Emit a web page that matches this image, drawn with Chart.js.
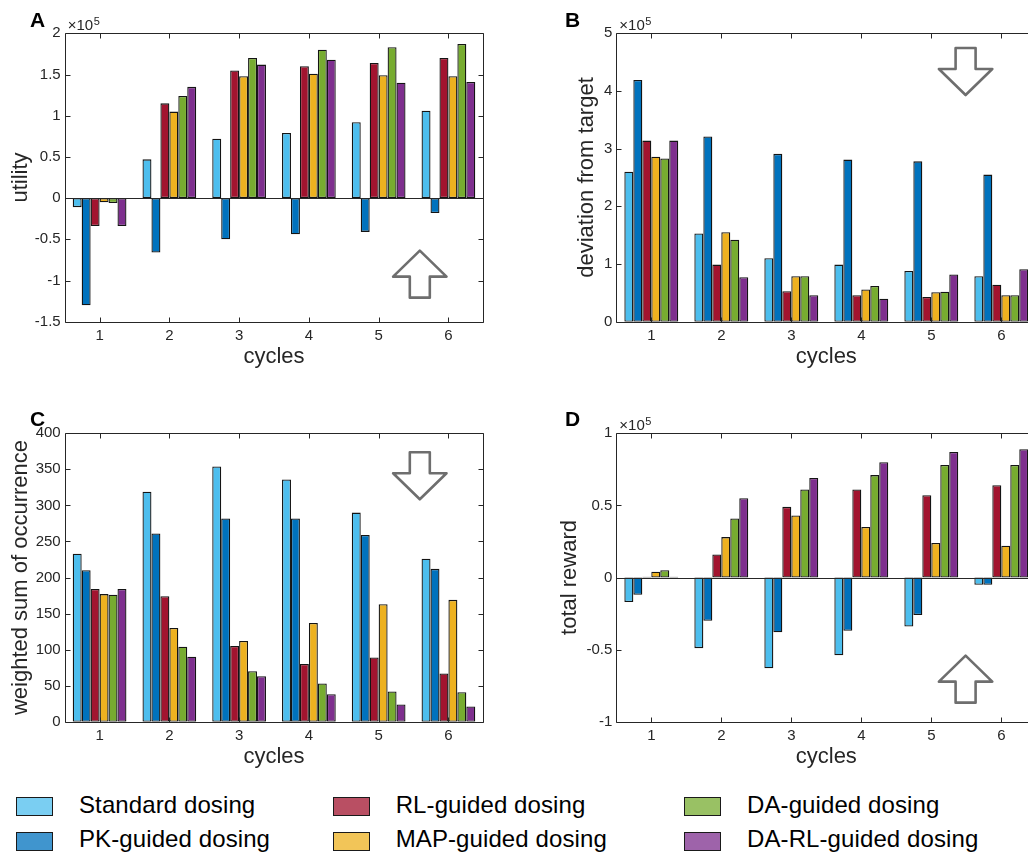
<!DOCTYPE html>
<html>
<head>
<meta charset="utf-8">
<script src="https://cdn.jsdelivr.net/npm/chart.js@4.4.1/dist/chart.umd.min.js"></script>
<style>
  html, body { margin: 0; padding: 0; background: #fff; width: 1028px; height: 855px; overflow: hidden; position: relative; }
  canvas { position: absolute; }
  .swatch { position: absolute; width: 37px; height: 19px; box-sizing: border-box; border: 1.5px solid #1a1a1a; }
  .keytext { position: absolute; font: 24px "Liberation Sans", Arial, sans-serif; letter-spacing: 0.1px; line-height: 24px; color: #000; white-space: nowrap; }
</style>
</head>
<body>
<canvas id="panelA" width="520" height="380" style="left:0px;top:0px"></canvas>
<canvas id="panelB" width="560" height="380" style="left:520px;top:0px"></canvas>
<canvas id="panelC" width="520" height="380" style="left:0px;top:400px"></canvas>
<canvas id="panelD" width="560" height="380" style="left:520px;top:400px"></canvas>
<div id="legend"></div>
<script>
const cycles = ['1', '2', '3', '4', '5', '6'];
const methods = ['Standard dosing', 'PK-guided dosing', 'RL-guided dosing',
                 'MAP-guided dosing', 'DA-guided dosing', 'DA-RL-guided dosing'];

// rows follow the order of `methods`
// utility, x10^5
const utility = [
  [-0.11, 0.47, 0.72, 0.79, 0.92, 1.06],
  [-1.30, -0.66, -0.50, -0.44, -0.41, -0.18],
  [-0.34, 1.15, 1.55, 1.60, 1.64, 1.70],
  [-0.05, 1.05, 1.48, 1.51, 1.49, 1.48],
  [-0.06, 1.24, 1.70, 1.80, 1.83, 1.87],
  [-0.34, 1.35, 1.62, 1.68, 1.40, 1.41]
];
// deviation from target, x10^5
const deviation = [
  [2.60, 1.53, 1.10, 0.99, 0.88, 0.79],
  [4.19, 3.21, 2.91, 2.81, 2.78, 2.55],
  [3.14, 0.99, 0.53, 0.46, 0.43, 0.64],
  [2.86, 1.55, 0.79, 0.56, 0.51, 0.46],
  [2.83, 1.42, 0.79, 0.62, 0.52, 0.46],
  [3.14, 0.77, 0.46, 0.40, 0.82, 0.91]
];
// weighted sum of occurrence
const occurrence = [
  [233, 319, 354, 336, 290, 226],
  [210, 261, 282, 282, 259, 212],
  [184, 174, 105, 80, 89, 67],
  [177, 130, 112, 137, 163, 169],
  [176, 104, 70, 53, 42, 41],
  [184, 90, 63, 38, 24, 21]
];
// total reward, x10^5
const reward = [
  [-0.17, -0.49, -0.63, -0.54, -0.34, -0.05],
  [-0.12, -0.30, -0.38, -0.37, -0.26, -0.05],
  [0.005, 0.16, 0.49, 0.61, 0.57, 0.64],
  [0.04, 0.28, 0.43, 0.35, 0.24, 0.22],
  [0.05, 0.41, 0.61, 0.71, 0.78, 0.78],
  [0.005, 0.55, 0.69, 0.80, 0.87, 0.89]
];

const barColors = [[77, 190, 238], [0, 114, 189], [162, 20, 47],
                   [237, 177, 32], [119, 172, 48], [126, 47, 142]];
const FONT = '"Liberation Sans", Arial, Helvetica, sans-serif';
const INK = '#262626';

// box, inward ticks, baseline, exponent, panel letter and arrow
const framePlugin = {
  id: 'frame',
  afterDatasetsDraw(chart, args, o) {
    const { ctx, chartArea: a, scales: { x, y } } = chart;
    const L = Math.round(a.left) + 0.5, R = Math.round(a.right) + 0.5;
    const T = Math.round(a.top) + 0.5, B = Math.round(a.bottom) + 0.5;
    ctx.save();
    ctx.strokeStyle = INK;
    ctx.lineWidth = 1;
    ctx.beginPath();
    if (o.baseline) {
      const y0 = Math.round(y.getPixelForValue(0)) + 0.5;
      ctx.moveTo(L, y0); ctx.lineTo(R, y0);
    }
    ctx.rect(L, T, R - L, B - T);
    y.ticks.forEach(t => {
      const py = Math.round(y.getPixelForValue(t.value)) + 0.5;
      ctx.moveTo(L, py); ctx.lineTo(L + 5, py);
      ctx.moveTo(R, py); ctx.lineTo(R - 5, py);
    });
    x.ticks.forEach((t, i) => {
      const px = Math.round(x.getPixelForTick(i)) + 0.5;
      ctx.moveTo(px, B); ctx.lineTo(px, B - 5);
      ctx.moveTo(px, T); ctx.lineTo(px, T + 5);
    });
    ctx.stroke();

    ctx.fillStyle = INK;
    ctx.textBaseline = 'alphabetic';
    if (o.exponent) {
      ctx.font = '15px ' + FONT;
      ctx.fillText('\u00d710', a.left + 3, a.top - 3);
      const w = ctx.measureText('\u00d710').width;
      ctx.font = '11px ' + FONT;
      ctx.fillText('5', a.left + 3.5 + w, a.top - 8);
    }
    ctx.fillStyle = '#000';
    ctx.font = 'bold 21px ' + FONT;
    ctx.fillText(o.letter, o.letterX, o.letterY);

    // outlined direction arrow
    const ax = x.getPixelForValue(o.arrow.at - 1);
    const tip = y.getPixelForValue(o.arrow.tip);
    const s = o.arrow.dir === 'up' ? 1 : -1;
    ctx.beginPath();
    ctx.moveTo(ax, tip);
    ctx.lineTo(ax + 26.7, tip + 26 * s);
    ctx.lineTo(ax + 10, tip + 26 * s);
    ctx.lineTo(ax + 10, tip + 47 * s);
    ctx.lineTo(ax - 10, tip + 47 * s);
    ctx.lineTo(ax - 10, tip + 26 * s);
    ctx.lineTo(ax - 26.7, tip + 26 * s);
    ctx.closePath();
    ctx.lineJoin = 'round';
    ctx.lineWidth = 2.6;
    ctx.strokeStyle = '#6e6e6e';
    ctx.stroke();
    ctx.restore();
  }
};

function makePanel(id, p) {
  const datasets = p.values.map((vals, i) => ({
    label: methods[i],
    data: vals,
    backgroundColor: 'rgb(' + barColors[i].join(',') + ')',
    borderColor: '#141414',
    borderWidth: 1.3,
    borderSkipped: false,
    inflateAmount: 0,
    categoryPercentage: 0.77,
    barPercentage: 1
  }));
  return new Chart(document.getElementById(id), {
    type: 'bar',
    data: { labels: cycles, datasets: datasets },
    options: {
      responsive: false,
      animation: false,
      devicePixelRatio: 1,
      layout: { padding: { top: 33.3, right: p.padRight, bottom: 0, left: 0 } },
      plugins: {
        legend: { display: false },
        tooltip: { enabled: false },
        frame: p
      },
      scales: {
        x: {
          grid: { display: false, drawTicks: false },
          border: { display: false },
          ticks: { color: INK, font: { family: FONT, size: 15 }, padding: 5, maxRotation: 0 },
          title: { display: true, text: 'cycles', color: INK,
                   font: { family: FONT, size: 22 }, padding: { top: 0, bottom: 10.3 } },
          afterFit(scale) { scale.height = 58.3; }
        },
        y: {
          min: p.min, max: p.max,
          grid: { display: false, drawTicks: false },
          border: { display: false },
          ticks: { stepSize: p.step, color: INK, font: { family: FONT, size: 15 }, padding: 4,
                   callback: v => String(Math.round(v * 100) / 100) },
          title: { display: true, text: p.title, color: INK,
                   font: { family: FONT, size: 22 }, padding: { top: p.titlePad, bottom: 0 } },
          afterFit(scale) { scale.width = p.axisWidth; }
        }
      }
    },
    plugins: [framePlugin]
  });
}

makePanel('panelA', {
  values: utility, title: 'utility', min: -1.5, max: 2, step: 0.5,
  axisWidth: 64.7, padRight: 36.7, titlePad: 7.8, baseline: true, exponent: true,
  letter: 'A', letterX: 30, letterY: 26.7,
  arrow: { at: 5.59, tip: -0.638, dir: 'up' }
});
makePanel('panelB', {
  values: deviation, title: 'deviation from target', min: 0, max: 5, step: 1,
  axisWidth: 96.3, padRight: 43.7, titlePad: 53.8, baseline: false, exponent: true,
  letter: 'B', letterX: 45, letterY: 27,
  arrow: { at: 5.49, tip: 3.93, dir: 'down' }
});
makePanel('panelC', {
  values: occurrence, title: 'weighted sum of occurrence', min: 0, max: 400, step: 50,
  axisWidth: 64.7, padRight: 36.7, titlePad: 7.8, baseline: false, exponent: false,
  letter: 'C', letterX: 30, letterY: 25.5,
  arrow: { at: 5.59, tip: 308.5, dir: 'down' }
});
makePanel('panelD', {
  values: reward, title: 'total reward', min: -1, max: 1, step: 0.5,
  axisWidth: 96.3, padRight: 43.7, titlePad: 36.8, baseline: true, exponent: true,
  letter: 'D', letterX: 45, letterY: 26,
  arrow: { at: 5.49, tip: -0.542, dir: 'up' }
});

// shared legend: three columns of two entries
const keyCols = [16, 332.7, 684];
const keyRows = [797.3, 831.7];
const legend = document.getElementById('legend');
methods.forEach((name, i) => {
  const left = keyCols[Math.floor(i / 2)], top = keyRows[i % 2];
  const sw = document.createElement('div');
  sw.className = 'swatch';
  sw.style.left = left + 'px';
  sw.style.top = top + 'px';
  sw.style.background = 'rgba(' + barColors[i].join(',') + ',0.75)';
  legend.appendChild(sw);
  const tx = document.createElement('div');
  tx.className = 'keytext';
  tx.style.left = (left + 63) + 'px';
  tx.style.top = (top - 4.3) + 'px';
  tx.textContent = name;
  legend.appendChild(tx);
});
</script>
</body>
</html>
